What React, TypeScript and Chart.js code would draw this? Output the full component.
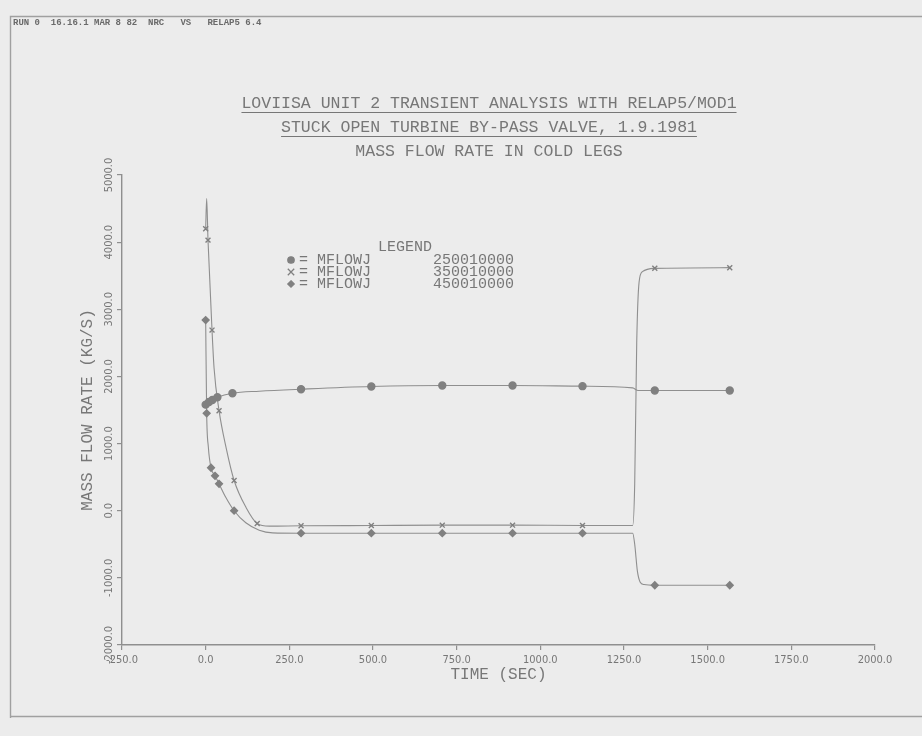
import React, { useEffect, useRef } from 'react';
import { Chart, registerables } from 'chart.js';

Chart.register(...registerables);

const W = 922;
const H = 736;
const BG = '#ececec';
const INK = '#777777';
const LINE = '#8f8f8f';
const MARK = '#808080';

const HEADER_TEXT = 'RUN 0  16.16.1 MAR 8 82  NRC   VS   RELAP5 6.4';
const TITLE_LINES = [
  'LOVIISA UNIT 2 TRANSIENT ANALYSIS WITH RELAP5/MOD1',
  'STUCK OPEN TURBINE BY-PASS VALVE, 1.9.1981',
  'MASS FLOW RATE IN COLD LEGS',
];
const X_TITLE = 'TIME (SEC)';
const Y_TITLE = 'MASS FLOW RATE (KG/S)';
const LEGEND_TITLE = 'LEGEND';
const SERIES_LABEL = 'MFLOWJ';
const SERIES_IDS = ['250010000', '350010000', '450010000'];

const X_TICK_VALUES = [-250, 0, 250, 500, 750, 1000, 1250, 1500, 1750, 2000];
const Y_TICK_VALUES = [-2000, -1000, 0, 1000, 2000, 3000, 4000, 5000];

// MFLOWJ 250010000
const timeC = [0, 10, 20, 35, 80, 160, 285, 495, 707, 917, 1126, 1276, 1292, 1342, 1566];
const flowC = [1580, 1620, 1650, 1690, 1750, 1780, 1810, 1850, 1865, 1865, 1855, 1830, 1790, 1790, 1790];
const marksC = [0, 1, 2, 3, 4, 6, 7, 8, 9, 10, 13, 14];

// MFLOWJ 350010000
const timeA = [0, 3, 7, 19, 25, 40, 61, 85, 121, 154, 190, 285, 495, 707, 917, 1126, 1276, 1282, 1288, 1295, 1305, 1342, 1566];
const flowA = [4200, 4650, 4030, 2690, 2130, 1490, 940, 450, 45, -190, -230, -225, -220, -215, -215, -220, -220, 400, 2500, 3400, 3560, 3610, 3620];
const marksA = [0, 2, 3, 5, 7, 9, 11, 12, 13, 14, 15, 21, 22];

// MFLOWJ 450010000
const timeB = [0, 3, 8, 16, 28, 40, 60, 85, 120, 160, 200, 285, 495, 707, 917, 1126, 1276, 1282, 1290, 1298, 1310, 1342, 1566];
const flowB = [2840, 1450, 950, 640, 520, 400, 200, 0, -180, -290, -330, -335, -335, -335, -335, -335, -335, -500, -900, -1060, -1100, -1110, -1110];
const marksB = [0, 1, 3, 4, 5, 7, 11, 12, 13, 14, 15, 21, 22];

const TICK_FONT = { family: '"Liberation Sans Narrow", "DejaVu Sans Condensed", "Liberation Sans", sans-serif', size: 11 };
const TEXT_FONT = '"Liberation Mono", "DejaVu Sans Mono", monospace';

const STYLES = [
  { style: 'circle', radius: 3.5 },
  { style: 'crossRot', radius: 3.5 },
  { style: 'rectRot', radius: 3.4 },
];

function makeSet(times: number[], values: number[], marks: number[], idx: number) {
  const st = STYLES[idx];
  return {
    label: SERIES_LABEL + ' ' + SERIES_IDS[idx],
    data: times.map((t, i) => ({ x: t, y: values[i] })),
    borderColor: LINE,
    borderWidth: 1.1,
    backgroundColor: MARK,
    pointBackgroundColor: MARK,
    pointBorderColor: MARK,
    pointBorderWidth: 1.4,
    pointStyle: st.style,
    pointRadius: (c: any) => (marks.includes(c.dataIndex) ? st.radius : 0),
    pointHoverRadius: 0,
    cubicInterpolationMode: 'monotone',
    fill: false,
  };
}

function drawMarker(ctx: CanvasRenderingContext2D, style: string, x: number, y: number, r: number) {
  ctx.beginPath();
  if (style === 'circle') {
    ctx.arc(x, y, r, 0, Math.PI * 2);
    ctx.fill();
    ctx.stroke();
  } else if (style === 'crossRot') {
    ctx.moveTo(x - r, y - r);
    ctx.lineTo(x + r, y + r);
    ctx.moveTo(x + r, y - r);
    ctx.lineTo(x - r, y + r);
    ctx.stroke();
  } else {
    ctx.moveTo(x, y - r);
    ctx.lineTo(x + r, y);
    ctx.lineTo(x, y + r);
    ctx.lineTo(x - r, y);
    ctx.closePath();
    ctx.fill();
    ctx.stroke();
  }
}

const decor = {
  id: 'decor',
  beforeDraw(chart: any) {
    const ctx = chart.ctx as CanvasRenderingContext2D;
    ctx.save();
    ctx.fillStyle = BG;
    ctx.fillRect(0, 0, chart.width, chart.height);
    ctx.restore();
  },
  afterDraw(chart: any) {
    const ctx = chart.ctx as CanvasRenderingContext2D;
    ctx.save();
    // frame
    ctx.strokeStyle = '#a0a0a0';
    ctx.lineWidth = 1.4;
    ctx.beginPath();
    ctx.moveTo(10.5, 718);
    ctx.lineTo(10.5, 16.5);
    ctx.lineTo(W, 16.5);
    ctx.moveTo(10.5, 716.5);
    ctx.lineTo(W, 716.5);
    ctx.stroke();

    // header
    ctx.fillStyle = '#6a6a6a';
    ctx.font = 'bold 9px ' + TEXT_FONT;
    ctx.textAlign = 'left';
    ctx.textBaseline = 'middle';
    ctx.fillText(HEADER_TEXT, 13, 23);

    // title
    ctx.fillStyle = INK;
    ctx.strokeStyle = INK;
    ctx.lineWidth = 1;
    ctx.font = '16.5px ' + TEXT_FONT;
    ctx.textAlign = 'center';
    const ty = [104, 128, 152];
    const cx = 489;
    TITLE_LINES.forEach((t, i) => {
      ctx.fillText(t, cx, ty[i]);
      if (i < 2) {
        const w = ctx.measureText(t).width;
        ctx.beginPath();
        ctx.moveTo(cx - w / 2, ty[i] + 8.5);
        ctx.lineTo(cx + w / 2, ty[i] + 8.5);
        ctx.stroke();
      }
    });

    // legend
    ctx.font = '15px ' + TEXT_FONT;
    ctx.textAlign = 'center';
    ctx.fillText(LEGEND_TITLE, 405, 247);
    const rows = [260, 272, 284];
    ctx.textAlign = 'left';
    rows.forEach((ry, i) => {
      ctx.fillStyle = MARK;
      ctx.strokeStyle = MARK;
      ctx.lineWidth = 1.3;
      drawMarker(ctx, STYLES[i].style, 291, ry, 3.2);
      ctx.fillStyle = INK;
      ctx.fillText('= ' + SERIES_LABEL, 299, ry);
      ctx.fillText(SERIES_IDS[i], 433, ry);
    });
    ctx.restore();
  },
};

export default function App() {
  const ref = useRef<HTMLCanvasElement | null>(null);

  useEffect(() => {
    document.body.style.margin = '0';
    const canvas = ref.current;
    if (!canvas) return;
    const chart = new Chart(canvas, {
      type: 'line',
      data: {
        datasets: [
          makeSet(timeC, flowC, marksC, 0),
          makeSet(timeA, flowA, marksA, 1),
          makeSet(timeB, flowB, marksB, 2),
        ] as any,
      },
      options: {
        responsive: false,
        animation: false,
        devicePixelRatio: 1,
        layout: { padding: { left: 0, right: 47, top: 175, bottom: 40 } },
        plugins: { legend: { display: false }, title: { display: false }, tooltip: { enabled: false } },
        elements: { line: { tension: 0 } },
        scales: {
          x: {
            type: 'linear',
            min: X_TICK_VALUES[0],
            max: X_TICK_VALUES[X_TICK_VALUES.length - 1],
            afterBuildTicks: (s: any) => { s.ticks = X_TICK_VALUES.map((v) => ({ value: v })); },
            afterFit: (s: any) => { s.height = 51; },
            ticks: {
              color: INK,
              font: TICK_FONT,
              maxRotation: 0,
              minRotation: 0,
              padding: 4,
              callback: (v: any) => Number(v).toFixed(1),
            },
            grid: { display: true, drawOnChartArea: false, drawTicks: true, tickLength: 5, color: LINE, lineWidth: 1.2 },
            border: { display: true, color: LINE, width: 1.4 },
            title: { display: true, text: X_TITLE, color: INK, font: { family: TEXT_FONT, size: 16 }, padding: { top: 0, bottom: 12 } },
          },
          y: {
            type: 'linear',
            min: Y_TICK_VALUES[0],
            max: Y_TICK_VALUES[Y_TICK_VALUES.length - 1],
            afterBuildTicks: (s: any) => { s.ticks = Y_TICK_VALUES.map((v) => ({ value: v })); },
            afterFit: (s: any) => { s.width = 122; },
            ticks: {
              color: INK,
              font: TICK_FONT,
              minRotation: 90,
              maxRotation: 90,
              crossAlign: 'center',
              padding: -11,
              callback: (v: any) => Number(v).toFixed(1),
            },
            grid: { display: true, drawOnChartArea: false, drawTicks: true, tickLength: 5, color: LINE, lineWidth: 1.2 },
            border: { display: true, color: LINE, width: 1.4 },
            title: { display: true, text: Y_TITLE, color: INK, font: { family: TEXT_FONT, size: 16 }, padding: { top: 78, bottom: 0 } },
          },
        },
      } as any,
      plugins: [decor],
    });
    return () => chart.destroy();
  }, []);

  return (
    <div style={{ width: W, height: H, background: BG, position: 'relative' }}>
      <canvas ref={ref} width={W} height={H} style={{ display: 'block' }} />
    </div>
  );
}
